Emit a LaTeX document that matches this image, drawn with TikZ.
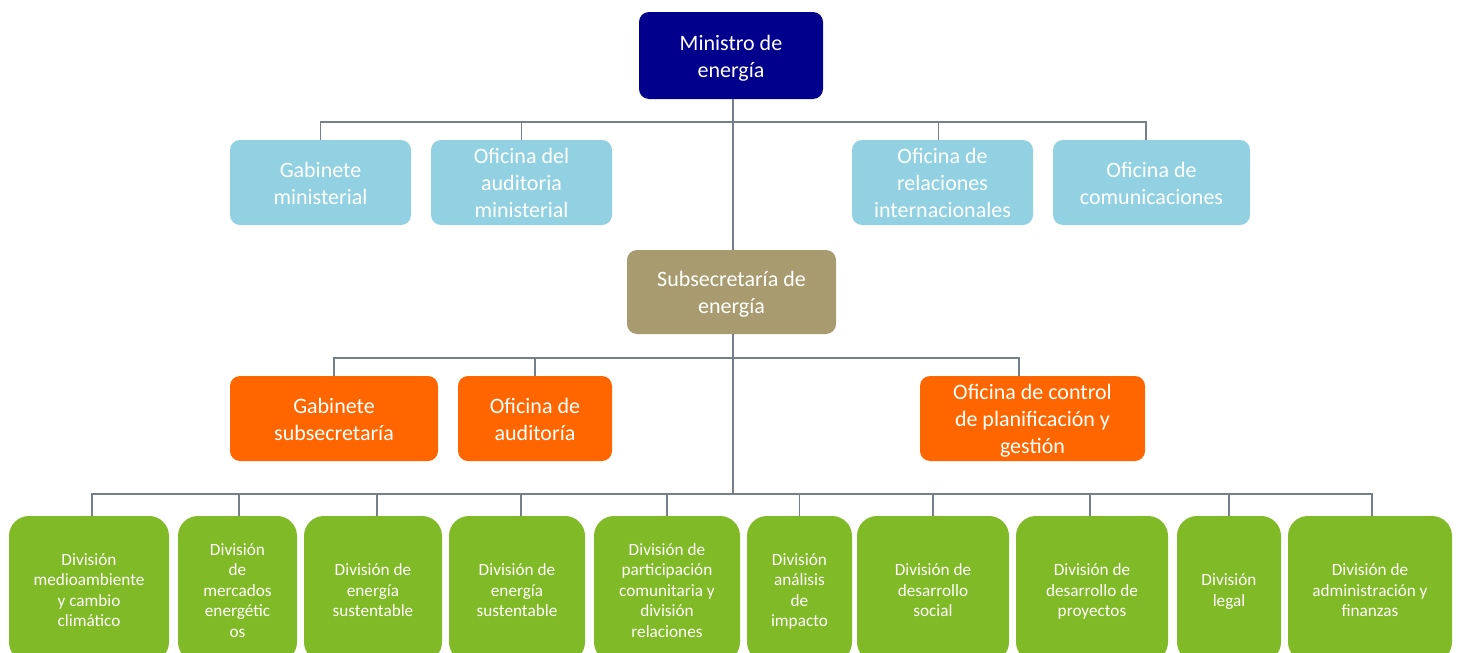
\documentclass[tikz,border=0pt]{standalone}
\usepackage{fontspec}
\setmainfont{Carlito}
\definecolor{navy}{RGB}{0,0,140}
\definecolor{skyblue}{RGB}{146,209,226}
\definecolor{tan}{RGB}{168,155,112}
\definecolor{orangebox}{RGB}{255,102,0}
\definecolor{greenbox}{RGB}{128,186,39}
\definecolor{linegray}{RGB}{118,128,138}
\begin{document}
\begin{tikzpicture}[x=0.5pt,y=-0.5pt,
  sz/.style 2 args={minimum width=#1*0.5pt, minimum height=#2*0.5pt},
  box/.style={rounded corners=5pt, inner sep=0pt, align=center, text=white,
              font=\fontsize{11}{13.4}\selectfont},
  % fixed text-block metrics so every box centres its lines alike
  tl2/.style={text height=22.6pt, text depth=1pt},
  tl3/.style={text height=36pt, text depth=1pt},
  dl2/.style={text height=17.95pt, text depth=0.5pt},
  dl3/.style={text height=28.2pt, text depth=0.5pt},
  dl4/.style={text height=38.45pt, text depth=0.5pt},
  dl5/.style={text height=48.7pt, text depth=0.5pt},
  topbox/.style={box, fill=navy},
  staffbox/.style={box, fill=skyblue},
  subbox/.style={box, fill=tan},
  officebox/.style={box, fill=orangebox},
  divbox/.style={box, fill=greenbox, rounded corners=10pt,
                 font=\fontsize{8.6}{10.25}\selectfont},
  link/.style={draw=linegray, line width=0.8pt}]
\useasboundingbox (0,0) rectangle (1458,653);
\clip (0,0) rectangle (1458,653);
\fill[white] (0,0) rectangle (1458,653);

% Minister and under-secretary
\node[topbox, tl2, sz={184}{87}] (min) at (731,55.5) {Ministro de\\energía};
\node[subbox, tl2, sz={209}{84}] (sub) at (731.5,292) {Subsecretaría de\\energía};

% Staff offices of the minister
\node[staffbox, tl2, sz={181}{85}] (gm)  at (320.5,182.5) {Gabinete\\ministerial};
\node[staffbox, tl3, sz={181}{85}] (oam) at (521.5,182.5) {Oficina del\\auditoria\\ministerial};
\node[staffbox, tl3, sz={181}{85}] (ori) at (942.5,182.5) {Oficina de\\relaciones\\internacionales};
\node[staffbox, tl2, sz={197}{85}] (com) at (1151.5,182.5) {Oficina de\\comunicaciones};

% Offices of the under-secretary
\node[officebox, tl2, sz={208}{85}] (gs)  at (334,418.5) {Gabinete\\subsecretaría};
\node[officebox, tl2, sz={154}{85}] (oa)  at (535,418.5) {Oficina de\\auditoría};
\node[officebox, tl3, sz={225}{85}] (ctl) at (1032.5,418.5) {Oficina de control\\de planificación y\\gestión};

% Divisions
\node[divbox, dl4, sz={160}{146}] (d1)  at (89,589)   {División\\medioambiente\\y cambio\\climático};
\node[divbox, dl5, sz={119}{146}] (d2)  at (237.5,589) {División\\de\\mercados\\energétic\\os};
\node[divbox, dl3, sz={138}{146}] (d3)  at (373,589)  {División de\\energía\\sustentable};
\node[divbox, dl3, sz={136}{146}] (d4)  at (517,589)  {División de\\energía\\sustentable};
\node[divbox, dl5, sz={146}{146}] (d5)  at (667,589)  {División de\\participación\\comunitaria y\\división\\relaciones};
\node[divbox, dl4, sz={105}{146}] (d6)  at (799.5,589) {División\\análisis\\de\\impacto};
\node[divbox, dl3, sz={152}{146}] (d7)  at (933,589)  {División de\\desarrollo\\social};
\node[divbox, dl3, sz={152}{146}] (d8)  at (1092,589) {División de\\desarrollo de\\proyectos};
\node[divbox, dl2, sz={104}{146}] (d9)  at (1229,589) {División\\legal};
\node[divbox, dl3, sz={164}{146}] (d10) at (1370,589) {División de\\administración y\\finanzas};

% Bus junctions on the trunk
\coordinate (bus1) at (733,122);
\coordinate (bus2) at (733,358);
\coordinate (bus3) at (733,494);

% Trunk
\draw[link] ([xshift=1pt]min.south) -- ([xshift=0.75pt]sub.north);
\draw[link] ([xshift=0.75pt]sub.south) -- (bus3);

% Minister's staff
\draw[link] (bus1) -| (gm.north);
\draw[link] (bus1) -| (oam.north);
\draw[link] (bus1) -| ([xshift=-2pt]ori.north);
\draw[link] (bus1) -| ([xshift=-2.75pt]com.north);

% Under-secretary's offices
\draw[link] (bus2) -| (gs.north);
\draw[link] (bus2) -| (oa.north);
\draw[link] (bus2) -| ([xshift=-6.75pt]ctl.north);

% Divisions
\draw[link] (bus3) -| ([xshift=1.5pt]d1.north);
\draw[link] (bus3) -| ([xshift=0.75pt]d2.north);
\draw[link] (bus3) -| ([xshift=2pt]d3.north);
\draw[link] (bus3) -| ([xshift=2pt]d4.north);
\draw[link] (bus3) -| (d5.north);
\draw[link] (bus3) -| (d6.north);
\draw[link] (bus3) -| (d7.north);
\draw[link] (bus3) -| ([xshift=-1pt]d8.north);
\draw[link] (bus3) -| (d9.north);
\draw[link] (bus3) -| ([xshift=1pt]d10.north);
\end{tikzpicture}
\end{document}
